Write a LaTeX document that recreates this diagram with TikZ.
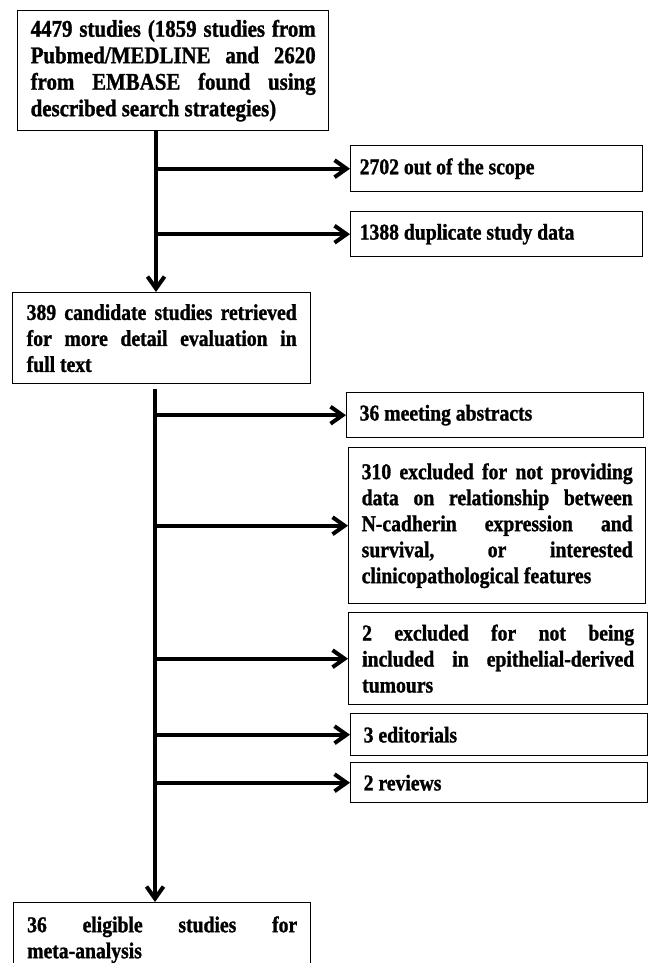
\documentclass[tikz,border=0pt]{standalone}
\usepackage{fontspec}
\setmainfont[FakeStretch=0.87, BoldFeatures={FakeBold=1.2}]{Liberation Serif}
\usetikzlibrary{arrows.meta}
\tikzset{
  box/.style={draw=black, line width=1.4pt, anchor=north west, inner ysep=0pt,
    align=justify, font=\fontsize{22.6}{26}\selectfont\bfseries},
  arr/.style={line width=4pt, -{Straight Barb[length=12pt,width=17pt]}},
}
\begin{document}
\begin{tikzpicture}[x=1pt,y=-1pt]
\useasboundingbox (0,0) rectangle (648,963);
\clip (0,0) rectangle (648,963);
% main column
\node[box, font=\fontsize{24}{26.5}\selectfont\bfseries, text width=285pt, inner xsep=13pt, minimum width=311pt, minimum height=120pt] (b1) at (17,10)
  {\tolerance=10000 4479 studies (1859 studies from\linebreak Pubmed/MEDLINE and 2620\linebreak from EMBASE found using\linebreak described search strategies)};
\node[box, text width=270pt, inner xsep=14pt, minimum width=298pt, minimum height=91pt] (b3) at (12,292)
  {\tolerance=10000 389 candidate studies retrieved\linebreak for more detail evaluation in\linebreak full text};
\node[box, text width=270pt, inner xsep=13.5pt, minimum width=297pt, minimum height=74pt] (b10) at (13,902)
  {\tolerance=10000 36 eligible studies for\linebreak meta-analysis};
% side boxes, first stage
\node[box, text width=274pt, inner xsep=9pt, minimum width=292pt, minimum height=46pt] (b2a) at (350,145)
  {2702 out of the scope};
\node[box, text width=274pt, inner xsep=9pt, minimum width=292pt, minimum height=45pt] (b2b) at (350,211)
  {1388 duplicate study data};
% side boxes, second stage
\node[box, text width=271pt, inner xsep=13pt, minimum width=297pt, minimum height=45pt] (c1) at (346,392)
  {36 meeting abstracts};
\node[box, text width=271pt, inner xsep=13pt, minimum width=297pt, minimum height=156pt] (c2) at (348,447)
  {\tolerance=10000 310 excluded for not providing\linebreak data on relationship between\linebreak N-cadherin expression and\linebreak survival, or interested\linebreak clinicopathological features};
\node[box, text width=272pt, inner xsep=13.5pt, minimum width=299pt, minimum height=92pt] (c3) at (348,612)
  {\tolerance=10000 2 excluded for not being\linebreak included in epithelial-derived\linebreak tumours};
\node[box, text width=271pt, inner xsep=13pt, minimum width=297pt, minimum height=42pt] (c4) at (350,713)
  {3 editorials};
\node[box, text width=271pt, inner xsep=13pt, minimum width=297pt, minimum height=40pt] (c5) at (350,762)
  {2 reviews};
% trunk positions
\coordinate (t1) at (156,0);
\coordinate (t2) at (155,0);
% connectors
\draw[arr] (b1.south -| t1) -- (b3.north -| t1);
\draw[arr] (b2a.west -| t1) -- (b2a.west);
\draw[arr] (b2b.west -| t1) -- (b2b.west);
\draw[arr, shorten <=5pt] (b3.south -| t2) -- (b10.north -| t2);
\draw[arr] (c1.west -| t2) -- (c1.west);
\draw[arr] (c2.west -| t2) -- (c2.west);
\draw[arr] (c3.west -| t2) -- (c3.west);
\draw[arr] (c4.west -| t2) -- (c4.west);
\draw[arr] (c5.west -| t2) -- (c5.west);
\end{tikzpicture}
\end{document}
